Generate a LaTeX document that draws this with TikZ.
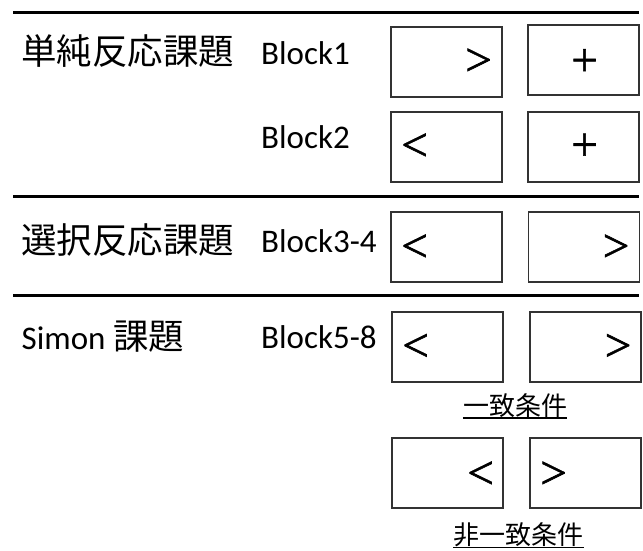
\documentclass[tikz,border=0pt]{standalone}
\usepackage{fontspec}
\setmainfont{Carlito}
\newfontfamily\cjk{Noto Sans CJK JP}
\newfontfamily\lat{Carlito}
\newfontfamily\symf[FakeBold=1.2]{Liberation Serif}
\begin{document}
\begin{tikzpicture}[x=1pt,y=-1pt,
  title/.style={anchor=base west, inner sep=0pt, font=\cjk\fontsize{35.5}{40}\selectfont},
  blk/.style={anchor=base west, inner sep=0pt, font=\lat\fontsize{33}{38}\selectfont},
  panel/.style={draw=black!80, line width=1.2pt, minimum width=111pt, minimum height=70pt, inner sep=0pt},
  sym/.style={inner sep=0pt, font=\symf\fontsize{47}{47}\selectfont},
  cond/.style={anchor=base, inner sep=0pt, font=\cjk\fontsize{26}{30}\selectfont},
  sep/.style={line width=3pt},
  uline/.style={line width=1.3pt}]
\useasboundingbox (0,0) rectangle (643,551);

% separators
\coordinate (l1a) at (13,12.5);  \coordinate (l1b) at (639,12.5);
\coordinate (l2a) at (13,196.5); \coordinate (l2b) at (639,196.5);
\coordinate (l3a) at (13,295.5); \coordinate (l3b) at (639,295.5);
\draw[sep] (l1a) -- (l1b);
\draw[sep] (l2a) -- (l2b);
\draw[sep] (l3a) -- (l3b);

% titles
\node[title] (t1) at (21,65) {単純反応課題};
\node[title] (t2) at (21,253) {選択反応課題};
\node[title] (t3) at (21.5,349) {{\lat\fontsize{33}{38}\selectfont Simon} 課題};

% block labels
\node[blk] (b1) at (261,65) {Block1};
\node[blk] (b2) at (261,148) {Block2};
\node[blk] (b3) at (261,252) {Block3-4};
\node[blk] (b4) at (261,348) {Block5-8};

% panels
\node[panel] (p1l) at (446.5,62) {};
\node[panel] (p1r) at (583.5,60) {};
\node[panel] (p2l) at (446.5,147) {};
\node[panel] (p2r) at (583.5,147) {};
\node[panel] (p3l) at (446.5,247) {};
\node[panel] (p3r) at (584,247) {};
\node[panel] (p4l) at (447.5,347) {};
\node[panel] (p4r) at (585.5,347) {};
\node[panel] (p5l) at (447.5,473) {};
\node[panel] (p5r) at (585.5,473) {};

% symbols
\node[sym] (s1l) at (478.5,62) {>};
\node[sym] (s1r) at (584.5,62.5) {+};
\node[sym] (s2l) at (414.5,147) {<};
\node[sym] (s2r) at (584.5,147) {+};
\node[sym] (s3l) at (414.5,248) {<};
\node[sym] (s3r) at (616,248) {>};
\node[sym] (s4l) at (415.5,347.5) {<};
\node[sym] (s4r) at (618,347.5) {>};
\node[sym] (s5l) at (480.5,475) {<};
\node[sym] (s5r) at (553.5,475) {>};

% condition labels
\node[cond] (c1) at (515,415) {一致条件};
\node[cond] (c2) at (518.5,544.5) {非一致条件};
\draw[uline] ([yshift=-3pt]c1.base west) -- ([yshift=-3pt]c1.base east);
\draw[uline] ([yshift=-3pt]c2.base west) -- ([yshift=-3pt]c2.base east);
\end{tikzpicture}
\end{document}
